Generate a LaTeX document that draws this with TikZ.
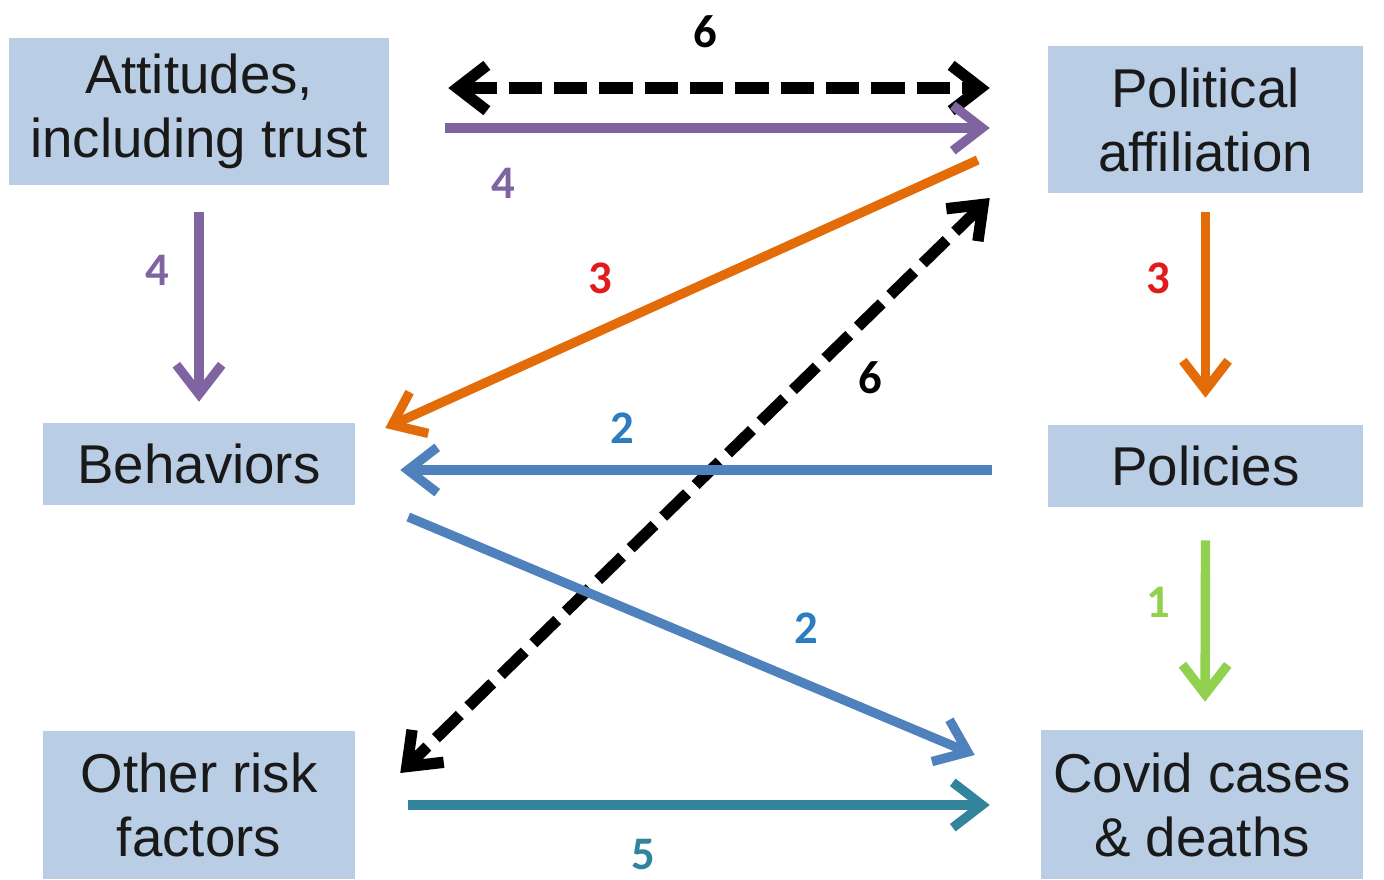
\documentclass[tikz,border=0pt]{standalone}
\usepackage{fontspec}
\setmainfont{Liberation Sans}
\newfontfamily\numfont{Carlito}
\usetikzlibrary{arrows.meta}
\definecolor{boxfill}{HTML}{B9CDE5}
\definecolor{purp}{HTML}{8064A2}
\definecolor{orng}{HTML}{E36C09}
\definecolor{redlab}{HTML}{E31A1C}
\definecolor{blu}{HTML}{4F81BD}
\definecolor{blulab}{HTML}{2E7CC0}
\definecolor{grn}{HTML}{92D050}
\definecolor{teal2}{HTML}{31849B}
\begin{document}
\begin{tikzpicture}[x=0.75pt,y=-0.75pt,
  box/.style={fill=boxfill, inner sep=0pt, align=center, text=black!90,
    font=\fontsize{41}{48}\selectfont},
  conn/.style={line width=7pt, -{Straight Barb[length=22pt,width=34pt]}},
  dconn/.style={line width=8.5pt, dash pattern=on 25pt off 9pt,
    {Straight Barb[length=22pt,width=34pt]}-{Straight Barb[length=22pt,width=34pt]}},
  lab/.style={font=\numfont\bfseries\fontsize{35}{38}\selectfont, inner sep=0pt}]
\useasboundingbox (0,0) rectangle (1384,879);
\fill[white] (0,0) rectangle (1384,879);

\node[box, minimum width=285pt, minimum height=110.25pt] (att) at (199,111.5) {Attitudes,\\including trust};
\node[box, minimum width=236.25pt, minimum height=110.25pt] (pol) at (1205.5,119.5) {Political\\affiliation};
\node[box, minimum width=234pt, minimum height=61.5pt] (beh) at (199,464) {Behaviors};
\node[box, minimum width=236.25pt, minimum height=61.5pt] (polic) at (1205.5,466) {Policies};
\node[box, minimum width=234pt, minimum height=111pt] (oth) at (199,805) {Other risk\\factors};
\node[box, minimum width=241.5pt, minimum height=111.75pt] (cov) at (1202,804.5) {Covid cases\\\& deaths};

% connectors
\draw[dconn, black] ([shift={(59,-23.5)}]att.east) -- ([shift={(-58,-31.5)}]pol.west);
\draw[conn, purp] ([shift={(56,16.5)}]att.east) -- ([shift={(-58,8.5)}]pol.west);
\draw[conn, purp] ([shift={(0,27)}]att.south) -- ([shift={(0,-21)}]beh.north);
\draw[conn, orng] ([shift={(-70,40.5)}]pol.west) -- ([shift={(30,-36)}]beh.east);
\draw[conn, orng] ([shift={(0,19)}]pol.south) -- ([shift={(0,-27)}]polic.north);
\draw[dconn, black] ([shift={(-58,78.5)}]pol.west) -- ([shift={(45,-32)}]oth.east);
\draw[conn, blu] ([shift={(-56,4)}]polic.west) -- ([shift={(45,6)}]beh.east);
\draw[conn, blu] ([shift={(53,53)}]beh.east) -- ([shift={(-66,-49.5)}]cov.west);
\draw[conn, grn] ([shift={(0,33)}]polic.south) -- ([shift={(3,-28)}]cov.north);
\draw[conn, teal2] ([shift={(53,0)}]oth.east) -- ([shift={(-51,0.5)}]cov.west);

% labels
\node[lab, text=black] (l6a) at (705,32) {6};
\node[lab, text=purp] (l4a) at (503,183) {4};
\node[lab, text=purp] (l4b) at (157,270) {4};
\node[lab, text=redlab] (l3a) at (600,278) {3};
\node[lab, text=redlab] (l3b) at (1158,278) {3};
\node[lab, text=black] (l6b) at (870,378) {6};
\node[lab, text=blulab] (l2a) at (622,428) {2};
\node[lab, text=blulab] (l2b) at (806,628) {2};
\node[lab, text=grn] (l1) at (1158,602) {1};
\node[lab, text=teal2] (l5) at (643,855) {5};
\end{tikzpicture}
\end{document}
